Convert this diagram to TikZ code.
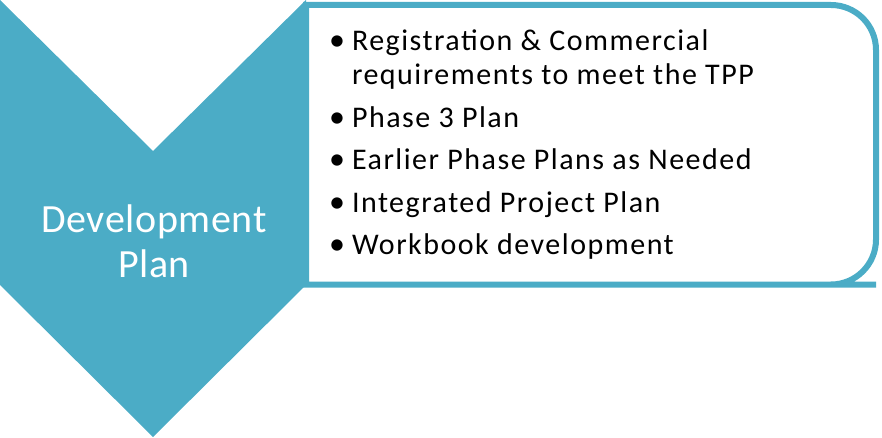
\documentclass[tikz,border=0pt]{standalone}
\usepackage{fontspec}
\setmainfont{Carlito}
\newfontfamily\itemfont[LetterSpace=5]{Carlito}
\newfontfamily\titlefont[LetterSpace=1.5]{Carlito}
\definecolor{chevteal}{HTML}{4BACC6}
\newcommand{\fL}{\titlefont\fontsize{40}{45}\selectfont}
\newcommand{\fI}{\itemfont\fontsize{30}{34}\selectfont}
\newcommand{\fD}{\fontsize{32}{34}\selectfont}
\newcommand{\planitem}[3]{%
  \node[bul] (#1dot) at (337,#2) {\textbullet};
  \node[itm] (#1) at (352,#2) {#3};}

\begin{document}
\begin{tikzpicture}[x=1pt,y=-1pt,
    txt/.style={inner sep=0pt,outer sep=0pt},
    itm/.style={txt,anchor=base west,font=\fI},
    bul/.style={txt,anchor=base,font=\fD},
    listbox/.style={draw=chevteal,fill=white,line width=6pt},
    chev/.style={fill=chevteal}]
  \path[use as bounding box] (0,0) rectangle (882,438);

  % List box, rounded on the right only
  \draw[listbox] (306,5) -- (831,5) [rounded corners=45] -- (876,5)
    -- (876,284.5) -- (831,284.5) [sharp corners] -- (306,284.5) -- cycle;

  % Chevron
  \fill[chev] (0,0) -- (153,151) -- (306,0) -- (306,285)
    -- (153,437) -- (0,285) -- cycle;
  \node[txt,align=center,text=white,font=\fL] (title) at (154,241)
    {Development\\Plan};

  % Items
  \planitem{reg}{51}{Registration \& Commercial}
  \node[itm] (regmore) at (352,85) {requirements to meet the TPP};
  \planitem{ph3}{128}{Phase 3 Plan}
  \planitem{early}{170}{Earlier Phase Plans as Needed}
  \planitem{ipp}{212}{Integrated Project Plan}
  \planitem{wbk}{254}{Workbook development}
\end{tikzpicture}
\end{document}
